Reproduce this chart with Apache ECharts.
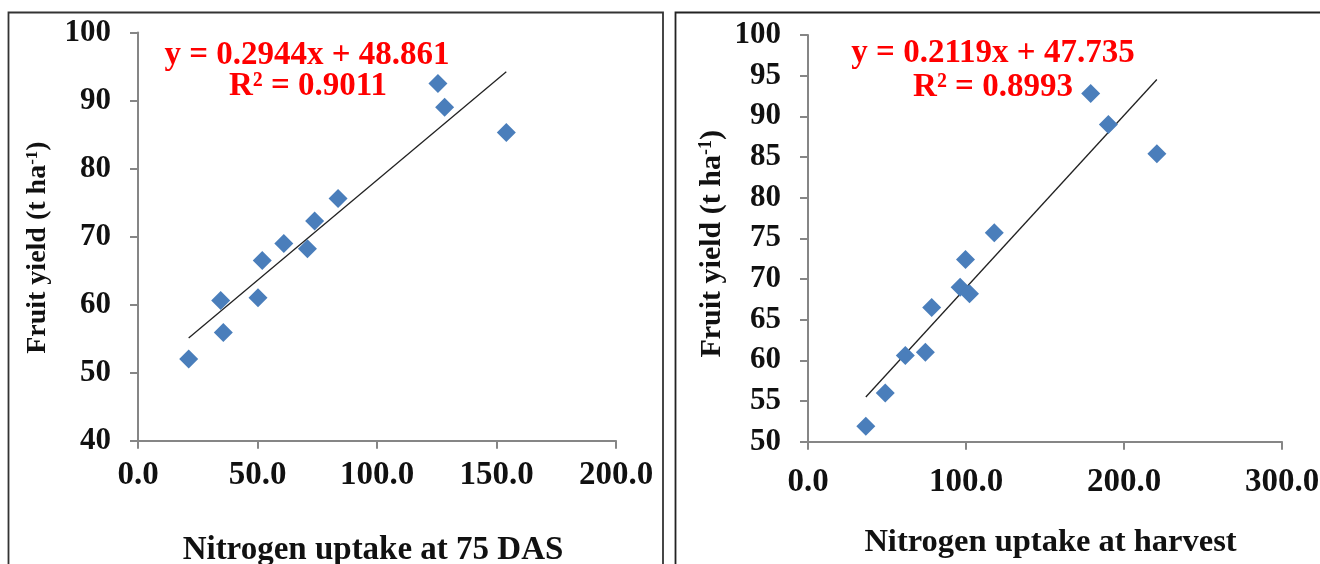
<!DOCTYPE html>
<html>
<head>
<meta charset="utf-8">
<script src="https://cdn.jsdelivr.net/npm/echarts@6/dist/echarts.min.js"></script>
<style>
html,body{margin:0;padding:0;background:#fff;}
#chart{width:1320px;height:564px;}
</style>
</head>
<body>
<div id="chart"></div>
<script>
// ---- Data ----
const leftX = [21.2, 34.6, 35.7, 50.2, 52.0, 61.0, 70.9, 73.9, 83.7, 125.5, 128.3, 154.1];
const leftY = [52.0, 60.6, 55.9, 61.0, 66.5, 69.0, 68.2, 72.3, 75.6, 92.5, 89.0, 85.3];
const rightX = [36.6, 48.9, 61.6, 74.3, 78.3, 96.3, 99.7, 102.2, 117.9, 178.9, 190.1, 220.8];
const rightY = [51.9, 56.0, 60.6, 61.0, 66.5, 69.0, 72.4, 68.2, 75.7, 92.8, 89.0, 85.4];

const leftFit = {slope: 0.2944, intercept: 48.861, eq: 'y = 0.2944x + 48.861', r2: 'R\u00B2 = 0.9011'};
const rightFit = {slope: 0.2119, intercept: 47.735, eq: 'y = 0.2119x + 47.735', r2: 'R\u00B2 = 0.8993'};

const leftXAxis = {min: 0, max: 200, interval: 50};
const leftYAxis = {min: 40, max: 100, interval: 10};
const rightXAxis = {min: 0, max: 300, interval: 100};
const rightYAxis = {min: 50, max: 100, interval: 5};

const xTitleLeft = 'Nitrogen uptake at 75 DAS';
const xTitleRight = 'Nitrogen uptake at harvest';
const yTitleMain = 'Fruit yield (t ha';
const yTitleSup = '-1';

// ---- Build ----
const FONT = '"Liberation Serif", "Times New Roman", serif';
const AXIS_COLOR = '#868686';

function pts(xs, ys){ return xs.map((x,i)=>[x, ys[i]]); }
function fitLine(xs, fit){
  const lo = Math.min(...xs), hi = Math.max(...xs);
  return [[lo, fit.slope*lo + fit.intercept],[hi, fit.slope*hi + fit.intercept]];
}

function xAxisCfg(ax, gridIndex, title, nameGap, labelMargin, titleSize, namePad){
  return {
    type: 'value', gridIndex, min: ax.min, max: ax.max, interval: ax.interval,
    name: title, nameLocation: 'middle', nameGap,
    nameTextStyle: {fontFamily: FONT, fontWeight: 'bold', fontSize: titleSize, color: '#111', padding: namePad},
    axisLine: {show: true, lineStyle: {color: AXIS_COLOR, width: 2}},
    axisTick: {show: true, inside: false, length: 8, lineStyle: {color: AXIS_COLOR, width: 2}},
    axisLabel: {fontFamily: FONT, fontWeight: 'bold', fontSize: 33, color: '#111', margin: labelMargin,
      formatter: v => v.toFixed(1)},
    splitLine: {show: false}
  };
}
function yAxisCfg(ax, gridIndex, nameGap, titleSize, namePad){
  return {
    type: 'value', gridIndex, min: ax.min, max: ax.max, interval: ax.interval,
    name: '{a|' + yTitleMain + '}{s|' + yTitleSup + '}{a|)}', nameLocation: 'middle', nameGap,
    nameTextStyle: {
      padding: namePad,
      rich: {
        a: {fontFamily: FONT, fontWeight: 'bold', fontSize: titleSize, color: '#111', lineHeight: titleSize},
        s: {fontFamily: FONT, fontWeight: 'bold', fontSize: Math.round(titleSize*0.6), color: '#111', verticalAlign: 'top', lineHeight: titleSize*0.6}
      }
    },
    axisLine: {show: true, lineStyle: {color: AXIS_COLOR, width: 2}},
    axisTick: {show: true, inside: false, length: 8, lineStyle: {color: AXIS_COLOR, width: 2}},
    axisLabel: {fontFamily: FONT, fontWeight: 'bold', fontSize: 31, color: '#111', margin: 27},
    splitLine: {show: false}
  };
}

const option = {
  backgroundColor: '#fff',
  animation: false,
  grid: [
    {left: 138, right: 1320-616, top: 32.5, bottom: 564-440.7, containLabel: false, outerBoundsMode: 'none'},
    {left: 808, right: 1320-1282, top: 35, bottom: 564-441.7, containLabel: false, outerBoundsMode: 'none'}
  ],
  xAxis: [
    xAxisCfg(leftXAxis, 0, xTitleLeft, 93, 18, 33, [0, 8, 0, 0]),
    xAxisCfg(rightXAxis, 1, xTitleRight, 84, 24, 32.5, [0, 0, 0, 11])
  ],
  yAxis: [
    yAxisCfg(leftYAxis, 0, 86, 28, [0, 22, 0, 0]),
    yAxisCfg(rightYAxis, 1, 81, 30, [0, 11, 0, 0])
  ],
  series: [
    {type: 'line', xAxisIndex: 0, yAxisIndex: 0, data: fitLine(leftX, leftFit), symbol: 'none',
      lineStyle: {color: '#222', width: 1.3}, z: 2, silent: true},
    {type: 'scatter', xAxisIndex: 0, yAxisIndex: 0, data: pts(leftX, leftY), symbol: 'diamond', symbolSize: 19,
      itemStyle: {color: '#4a7ebb', opacity: 1}, z: 3},
    {type: 'line', xAxisIndex: 1, yAxisIndex: 1, data: fitLine(rightX, rightFit), symbol: 'none',
      lineStyle: {color: '#222', width: 1.3}, z: 2, silent: true},
    {type: 'scatter', xAxisIndex: 1, yAxisIndex: 1, data: pts(rightX, rightY), symbol: 'diamond', symbolSize: 19,
      itemStyle: {color: '#4a7ebb', opacity: 1}, z: 3}
  ],
  graphic: [
    {type: 'rect', shape: {x: 8.5, y: 12.5, width: 654.5, height: 600}, style: {fill: 'none', stroke: '#333', lineWidth: 1.8}, silent: true, z: -1},
    {type: 'rect', shape: {x: 675.5, y: 12.5, width: 700, height: 600}, style: {fill: 'none', stroke: '#222', lineWidth: 1.8}, silent: true, z: -1},
    {type: 'text', x: 307, y: 55, style: {text: leftFit.eq, font: 'bold 33px ' + FONT, fill: '#ff0000', align: 'center', verticalAlign: 'middle', textAlign: 'center', textVerticalAlign: 'middle'}},
    {type: 'text', x: 308, y: 86, style: {text: leftFit.r2, font: 'bold 33px ' + FONT, fill: '#ff0000', align: 'center', verticalAlign: 'middle', textAlign: 'center', textVerticalAlign: 'middle'}},
    {type: 'text', x: 993, y: 53, style: {text: rightFit.eq, font: 'bold 33px ' + FONT, fill: '#ff0000', align: 'center', verticalAlign: 'middle', textAlign: 'center', textVerticalAlign: 'middle'}},
    {type: 'text', x: 993, y: 87, style: {text: rightFit.r2, font: 'bold 33px ' + FONT, fill: '#ff0000', align: 'center', verticalAlign: 'middle', textAlign: 'center', textVerticalAlign: 'middle'}}
  ]
};

const chart = echarts.init(document.getElementById('chart'), null, {renderer: 'canvas'});
chart.setOption(option);
</script>
</body>
</html>
